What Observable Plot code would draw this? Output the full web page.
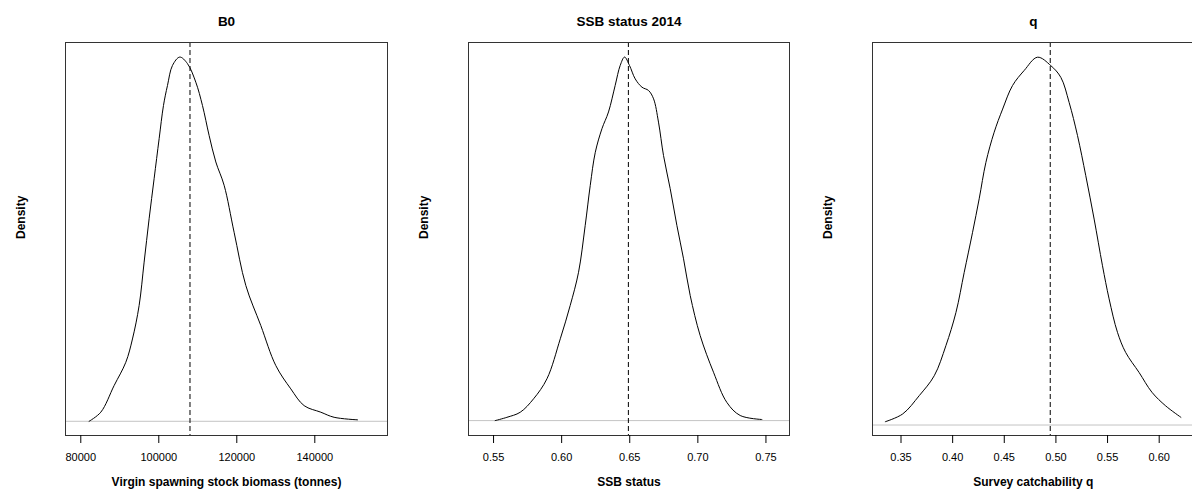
<!DOCTYPE html>
<html>
<head>
<meta charset="utf-8">
<script src="https://cdn.jsdelivr.net/npm/d3@7"></script>
<script src="https://cdn.jsdelivr.net/npm/@observablehq/plot@0.6"></script>
<style>
  html, body { margin: 0; padding: 0; background: #fff; overflow: hidden; }
  #wrap { position: relative; width: 1192px; height: 496px; overflow: hidden; background: #fff; }
  .panel { position: absolute; top: 0; }
</style>
</head>
<body>
<div id="wrap"></div>
<script>
// Panel titles, x labels, reference values, tick values
const titles = ["B0", "SSB status 2014", "q"];
const xLabels = ["Virgin spawning stock biomass (tonnes)", "SSB status", "Survey catchability q"];
const refValues = [108000, 0.649, 0.4945];
const ticks1 = [80000, 100000, 120000, 140000];
const ticks2 = [0.55, 0.60, 0.65, 0.70, 0.75];
const ticks3 = [0.35, 0.40, 0.45, 0.50, 0.55, 0.60];

// Density curves (relative density, peak = 1)
const b0X = [82130, 85130, 88540, 91540, 93250, 94960, 96240, 97520, 98800, 100090, 101200, 102230, 103510, 105380, 107350, 109490, 111200, 112900, 114620, 116750, 119310, 122310, 126150, 130000, 133850, 137260, 141540, 144950, 150950];
const b0D = [0, 0.025, 0.098, 0.162, 0.226, 0.318, 0.437, 0.556, 0.666, 0.776, 0.867, 0.922, 0.977, 1.0, 0.982, 0.931, 0.867, 0.785, 0.712, 0.648, 0.519, 0.373, 0.263, 0.153, 0.089, 0.043, 0.025, 0.011, 0.004];

const ssbX = [0.5512, 0.5598, 0.5696, 0.5794, 0.5892, 0.5990, 0.6063, 0.6124, 0.6173, 0.6210, 0.6247, 0.6296, 0.6344, 0.6393, 0.6430, 0.6462, 0.6498, 0.6540, 0.6590, 0.6638, 0.6675, 0.6711, 0.6748, 0.6797, 0.6846, 0.6895, 0.6944, 0.7017, 0.7115, 0.7213, 0.7311, 0.7470];
const ssbD = [0, 0.009, 0.023, 0.060, 0.115, 0.225, 0.317, 0.408, 0.537, 0.647, 0.738, 0.803, 0.849, 0.922, 0.977, 1.0, 0.977, 0.940, 0.917, 0.908, 0.885, 0.821, 0.729, 0.638, 0.537, 0.445, 0.344, 0.234, 0.133, 0.050, 0.014, 0.003];

const qX = [0.3348, 0.3516, 0.3677, 0.3822, 0.3935, 0.4032, 0.4112, 0.4193, 0.4257, 0.4322, 0.4402, 0.4484, 0.4580, 0.4693, 0.4822, 0.4951, 0.5048, 0.5128, 0.5209, 0.5289, 0.5370, 0.5451, 0.5515, 0.5596, 0.5676, 0.5805, 0.5930, 0.6063, 0.6210];
const qD = [0.009, 0.030, 0.080, 0.134, 0.216, 0.306, 0.415, 0.524, 0.615, 0.714, 0.796, 0.859, 0.923, 0.964, 1.0, 0.977, 0.945, 0.877, 0.787, 0.678, 0.560, 0.433, 0.343, 0.252, 0.197, 0.143, 0.089, 0.052, 0.021];

const toRows = (xs, ds) => xs.map((x, i) => ({x, d: ds[i]}));

const FONT = "'Liberation Sans', Arial, Helvetica, sans-serif";

const panels = [
  {left: 0, width: 400, ml: 65, mr: 13, xd: [76080, 158640], yd: [-0.039, 1.04], ticks: ticks1, fmt: d3.format("d"), rows: toRows(b0X, b0D)},
  {left: 403, width: 400, ml: 65, mr: 14, xd: [0.5316, 0.7673], yd: [-0.041, 1.04], ticks: ticks2, fmt: d3.format(".2f"), rows: toRows(ssbX, ssbD)},
  {left: 806, width: 390, ml: 66, mr: 2.5, xd: [0.3224, 0.6337], yd: [-0.0285, 1.04], ticks: ticks3, fmt: d3.format(".2f"), rows: toRows(qX, qD)}
];

const wrap = document.getElementById("wrap");
panels.forEach((p, i) => {
  const chart = Plot.plot({
    width: p.width,
    height: 496,
    marginLeft: p.ml,
    marginRight: p.mr,
    marginTop: 42,
    marginBottom: 61,
    style: {fontFamily: FONT, color: "#000", background: "#fff", overflow: "visible"},
    x: {domain: p.xd},
    y: {domain: p.yd, axis: null},
    marks: [
      Plot.ruleY([0], {stroke: "#c4c4c4", strokeWidth: 1}),
      Plot.ruleX([refValues[i]], {stroke: "#000", strokeWidth: 1, strokeDasharray: "5,3"}),
      Plot.line(p.rows, {x: "x", y: "d", stroke: "#000", strokeWidth: 1, curve: "catmull-rom"}),
      Plot.frame({stroke: "#333", strokeWidth: 1}),
      Plot.axisX({ticks: p.ticks, tickFormat: p.fmt, tickSize: 8, tickPadding: 10, fontSize: 11, label: null, stroke: "#000"}),
      Plot.text([titles[i]], {frameAnchor: "top", dy: -26, fontSize: 13.5, fontWeight: "bold", fill: "#000"}),
      Plot.text([xLabels[i]], {frameAnchor: "bottom", dy: 50, fontSize: 12, fontWeight: "bold", fill: "#000"}),
      Plot.text(["Density"], {frameAnchor: "left", dx: -44, rotate: -90, fontSize: 12, fontWeight: "bold", fill: "#000"})
    ]
  });
  chart.classList.add("panel");
  chart.style.left = p.left + "px";
  wrap.appendChild(chart);
});
</script>
</body>
</html>
